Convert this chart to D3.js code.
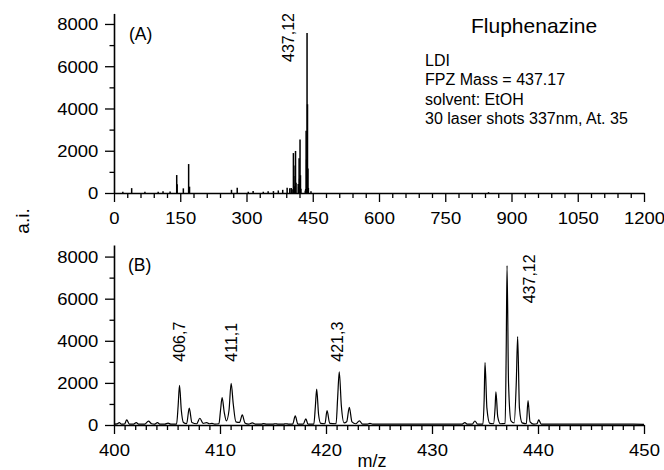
<!DOCTYPE html>
<html>
<head>
<meta charset="utf-8">
<script src="https://cdn.jsdelivr.net/npm/d3@7/dist/d3.min.js"></script>
<style>
  html, body { margin: 0; padding: 0; background: #fff; }
  svg { display: block; }
  text { font-family: "Liberation Sans", Arial, Helvetica, sans-serif; fill: #000; }
</style>
</head>
<body>
<svg id="chart" width="664" height="470"></svg>
<script>
// ---- Panel (A): LDI stick spectrum, full mass range [m/z, intensity] ----
const sticksMz = [20, 40, 70, 100, 111, 127, 142, 143, 157, 169, 171,
  266, 279, 304, 315, 338, 349, 361, 372, 382, 392, 398,
  401.2, 403.3, 406.2, 407.1, 408.1, 410.2, 411.0, 412.1, 417.1, 418.1,
  419.1, 420.1, 421.2, 422.2, 423.2, 433.1, 434.0, 435.0, 436.0, 437.1,
  438.1, 439.1, 440.1, 446, 848];
const sticksI = [60, 230, 60, 60, 80, 70, 850, 420, 220, 1370, 300,
  150, 250, 60, 100, 60, 80, 90, 120, 150, 250, 220,
  240, 180, 1890, 800, 320, 1300, 1990, 480, 430, 290,
  1650, 680, 2530, 840, 200, 110, 190, 2950, 1580, 7570,
  4200, 1160, 240, 80, 40];

// ---- Panel (B): profile trace, 400–450 m/z ----
const profileMz = [
  400.0, 400.3, 400.5, 400.7, 401.0, 401.2, 401.45, 401.8, 402.1, 402.35,
  402.9, 403.25, 403.55, 403.8, 404.1, 404.35, 404.8, 405.1, 405.35, 405.9,
  406.05, 406.18, 406.35, 406.55, 406.85, 407.1, 407.35, 407.8, 408.1, 408.4,
  408.75, 409.0, 409.25, 409.5, 409.9, 410.05, 410.2, 410.4, 410.6, 410.85,
  411.05, 411.25, 411.5, 411.85, 412.1, 412.35, 412.7, 413.05, 413.35, 413.9,
  414.1, 414.4, 415.0, 415.2, 415.5, 416.0, 416.2, 416.5, 416.85, 417.1,
  417.35, 417.85, 418.1, 418.3, 418.85, 419.0, 419.12, 419.3, 419.5, 419.9,
  420.1, 420.35, 420.95, 421.1, 421.25, 421.45, 421.7, 421.95, 422.2, 422.45,
  422.8, 423.15, 423.45, 423.9, 424.15, 424.4, 425.0, 426.0, 427.0, 428.0,
  429.0, 430.0, 431.0, 432.0, 432.8, 433.1, 433.35, 433.8, 434.05, 434.3,
  434.8, 434.92, 435.0, 435.18, 435.45, 435.8, 435.95, 436.03, 436.2, 436.45,
  436.9, 437.0, 437.08, 437.22, 437.45, 437.75, 437.95, 438.08, 438.25, 438.5,
  438.9, 439.06, 439.25, 439.6, 439.9, 440.07, 440.3, 441.0, 442.0, 443.0,
  444.0, 445.0, 446.0, 447.0, 448.0, 449.0, 450.0];
const profileI = [
  40, 50, 110, 40, 50, 240, 40, 40, 110, 40,
  40, 180, 60, 40, 110, 40, 40, 90, 40, 40,
  900, 1880, 700, 120, 60, 800, 120, 60, 320, 80,
  110, 60, 80, 40, 60, 700, 1300, 600, 200, 700,
  1980, 1000, 150, 120, 480, 100, 40, 100, 40, 40,
  70, 40, 40, 60, 40, 40, 60, 40, 40, 430,
  40, 40, 290, 40, 40, 900, 1700, 500, 80, 60,
  680, 80, 60, 1300, 2530, 900, 100, 150, 840, 150,
  60, 200, 40, 40, 80, 40, 40, 40, 40, 40,
  40, 40, 40, 40, 40, 110, 40, 40, 190, 40,
  40, 1200, 2960, 800, 80, 60, 800, 1580, 400, 60,
  80, 3500, 7570, 2000, 200, 100, 2000, 4200, 800, 100,
  60, 1160, 150, 40, 60, 240, 40, 40, 40, 40,
  40, 40, 40, 40, 40, 40, 30];

// Peak annotations (panel B)
const peakLabelMz = [406.2, 411.05, 421.25, 437.08];
const peakLabelText = ["406,7", "411,1", "421,3", "437,12"];

// Axis ticks
const topXMajor = [0, 150, 300, 450, 600, 750, 900, 1050, 1200];
const botXMajor = [400, 410, 420, 430, 440, 450];
const yMajor = [0, 2000, 4000, 6000, 8000];

const infoLines = ["LDI", "FPZ Mass = 437.17", "solvent: EtOH", "30 laser shots 337nm, At. 35"];

const svg = d3.select("#chart");

// ---- scales ----
const xTop = d3.scaleLinear().domain([0, 1200]).range([114, 644]);
const yTop = d3.scaleLinear().domain([0, 8500]).range([193, 13.4]);
const xBot = d3.scaleLinear().domain([400, 450]).range([114, 644]);
const yBot = d3.scaleLinear().domain([0, 8550]).range([425, 245]);

function styleAxis(g) {
  g.select(".domain").attr("stroke", "#000").attr("stroke-width", 1.6);
  g.selectAll(".tick line").attr("stroke", "#000").attr("stroke-width", 1.3);
  g.selectAll("text").attr("font-size", 16.5).attr("font-family", "Liberation Sans, Arial, sans-serif");
}

function drawXAxis(x, y0, major, minorStep, labelOffset) {
  const dom = x.domain();
  const minor = d3.range(dom[0], dom[1] + 1e-9, minorStep).filter(v => !major.includes(v));
  svg.append("g").attr("transform", `translate(0,${y0})`)
    .call(d3.axisBottom(x).tickValues(minor).tickSize(5).tickSizeOuter(0).tickFormat(""))
    .call(g => { g.select(".domain").remove(); g.selectAll("line").attr("stroke", "#000").attr("stroke-width", 1.3); });
  const g = svg.append("g").attr("transform", `translate(0,${y0})`)
    .call(d3.axisBottom(x).tickValues(major).tickSize(9).tickSizeOuter(0).tickFormat(d3.format("d")));
  styleAxis(g);
  g.selectAll("text").attr("y", labelOffset).attr("dy", 0)
    .attr("transform", "scale(1.12,1)")
    .attr("x", 0);
}

function drawYAxis(y, x0) {
  const dom = y.domain();
  const minor = d3.range(1000, dom[1], 2000);
  svg.append("g").attr("transform", `translate(${x0},0)`)
    .call(d3.axisLeft(y).tickValues(minor).tickSize(4.5).tickSizeOuter(0).tickFormat(""))
    .call(g => { g.select(".domain").remove(); g.selectAll("line").attr("stroke", "#000").attr("stroke-width", 1.3); });
  const g = svg.append("g").attr("transform", `translate(${x0},0)`)
    .call(d3.axisLeft(y).tickValues(yMajor).tickSize(9).tickSizeOuter(0).tickFormat(d3.format("d")));
  styleAxis(g);
  g.selectAll("text").attr("x", -14).attr("dy", "0.36em").attr("transform", "scale(1.12,1)");
}

// ---- Panel A ----
const sticks = sticksMz.map((m, i) => ({ m, v: sticksI[i] }));
svg.append("g").selectAll("line").data(sticks).join("line")
  .attr("x1", d => xTop(d.m)).attr("x2", d => xTop(d.m))
  .attr("y1", yTop(0)).attr("y2", d => yTop(d.v))
  .attr("stroke", "#000").attr("stroke-width", 1.5);

drawXAxis(xTop, yTop(0), topXMajor, 30, 31);
drawYAxis(yTop, 114);

svg.append("text").attr("x", 129).attr("y", 40).attr("font-size", 17.5).text("(A)");
svg.append("text").attr("x", 471).attr("y", 33).attr("font-size", 21).text("Fluphenazine");
svg.append("g").selectAll("text").data(infoLines).join("text")
  .attr("x", 425).attr("y", (d, i) => 66 + i * 19.4)
  .attr("font-size", 16).text(d => d);
svg.append("text")
  .attr("transform", `translate(${xTop(437.12) - 13},62) rotate(-90)`)
  .attr("font-size", 16).text("437,12");

// ---- Panel B ----
const profile = profileMz.map((m, i) => ({ m, v: profileI[i] }));
svg.append("path").datum(profile)
  .attr("fill", "none").attr("stroke", "#000").attr("stroke-width", 1.2)
  .attr("stroke-linejoin", "round")
  .attr("d", d3.line().x(d => xBot(d.m)).y(d => yBot(d.v)).curve(d3.curveMonotoneX));

drawXAxis(xBot, yBot(0), botXMajor, 1, 31.5);
drawYAxis(yBot, 114);

svg.append("text").attr("x", 128).attr("y", 270.5).attr("font-size", 17.5).text("(B)");

const labelBaseY = [361.7, 361.7, 361.7, 303.3];
const labelDx = [5, 5.5, 4, 28];
svg.append("g").selectAll("text").data(peakLabelText).join("text")
  .attr("transform", (d, i) => `translate(${xBot(peakLabelMz[i]) + labelDx[i]},${labelBaseY[i]}) rotate(-90)`)
  .attr("font-size", 16).text(d => d);

// ---- shared axis titles ----
svg.append("text")
  .attr("transform", "translate(28.5,221) rotate(-90)")
  .attr("text-anchor", "middle").attr("font-size", 19).text("a.i.");
svg.append("text").attr("x", 372).attr("y", 466.5)
  .attr("text-anchor", "middle").attr("font-size", 18).text("m/z");
</script>
</body>
</html>
